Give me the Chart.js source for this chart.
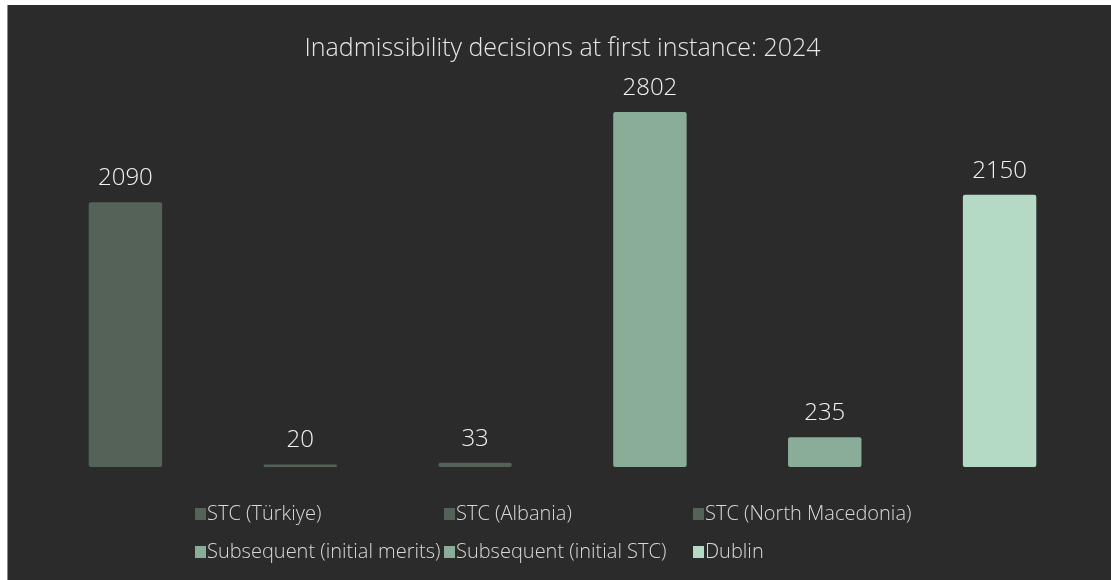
<!DOCTYPE html>
<html>
<head>
<meta charset="utf-8">
<script src="https://cdn.jsdelivr.net/npm/chart.js@4.4.1/dist/chart.umd.min.js"></script>
<style>
  html, body { margin: 0; padding: 0; background: #ffffff; }
  #wrap {
    position: absolute; left: 7px; top: 5px; width: 1104px; height: 575px;
    background: #2b2b2b; border-left: 1px solid #8a8a8a; box-sizing: border-box;
  }
</style>
</head>
<body>
<div id="wrap"><canvas id="inadmChart"></canvas></div>
<script>
// chart data
const categories = ["2024"];
const seriesNames = [
  "STC (Türkiye)",
  "STC (Albania)",
  "STC (North Macedonia)",
  "Subsequent (initial merits)",
  "Subsequent (initial STC)",
  "Dublin",
];
const seriesValues = [2090, 20, 33, 2802, 235, 2150];
const seriesColors = ["#546258", "#546258", "#546258", "#89ad98", "#89ad98", "#b4d9c4"];

const FONT = "'Open Sans', 'Noto Sans', sans-serif";

// value labels above each bar
const valueLabels = {
  id: "valueLabels",
  afterDatasetsDraw(chart) {
    const ctx = chart.ctx;
    ctx.save();
    ctx.font = "300 24px " + FONT;
    ctx.fillStyle = "#f2f2f2";
    ctx.textAlign = "center";
    ctx.textBaseline = "middle";
    chart.data.datasets.forEach((ds, i) => {
      chart.getDatasetMeta(i).data.forEach((bar, j) => {
        ctx.fillText(String(ds.data[j]), bar.x, bar.y - 24);
      });
    });
    ctx.restore();
  },
};

// legend laid out in equal columns, like the original
const gridLegend = {
  id: "gridLegend",
  afterDraw(chart, args, opts) {
    const ctx = chart.ctx;
    ctx.save();
    ctx.font = "300 20px " + FONT;
    ctx.textBaseline = "middle";
    chart.data.datasets.forEach((ds, i) => {
      const col = i % opts.columns;
      const row = Math.floor(i / opts.columns);
      const x = opts.left + col * opts.colWidth;
      const y = opts.top + row * opts.rowHeight;
      ctx.fillStyle = ds.backgroundColor;
      ctx.fillRect(x, y - 6, 11, 12);
      ctx.fillStyle = "#d9d9d9";
      ctx.textAlign = "left";
      ctx.fillText(ds.label, x + 12, y);
    });
    ctx.restore();
  },
};

const ctx1 = document.getElementById("inadmChart").getContext("2d");

const inadmChart = new Chart(ctx1, {
  type: "bar",
  data: {
    labels: categories,
    datasets: seriesNames.map((name, i) => ({
      label: name,
      data: [seriesValues[i]],
      backgroundColor: seriesColors[i],
      borderRadius: 2,
      borderSkipped: false,
      categoryPercentage: 1,
      barPercentage: 0.42,
    })),
  },
  options: {
    responsive: true,
    maintainAspectRatio: false,
    animation: false,
    layout: {
      padding: { top: 29, bottom: 113, left: 30, right: 24 },
    },
    scales: {
      x: { display: false },
      y: { display: false, min: 0, max: 3000 },
    },
    plugins: {
      legend: { display: false },
      tooltip: { enabled: false },
      title: {
        display: true,
        text: "Inadmissibility decisions at first instance: 2024",
        color: "#e6e6e6",
        font: { family: FONT, size: 25, weight: "300" },
        padding: { top: 0, bottom: 23 },
      },
      gridLegend: { columns: 3, left: 187, colWidth: 249, top: 509, rowHeight: 38 },
    },
  },
  plugins: [valueLabels, gridLegend],
});
</script>
</body>
</html>
